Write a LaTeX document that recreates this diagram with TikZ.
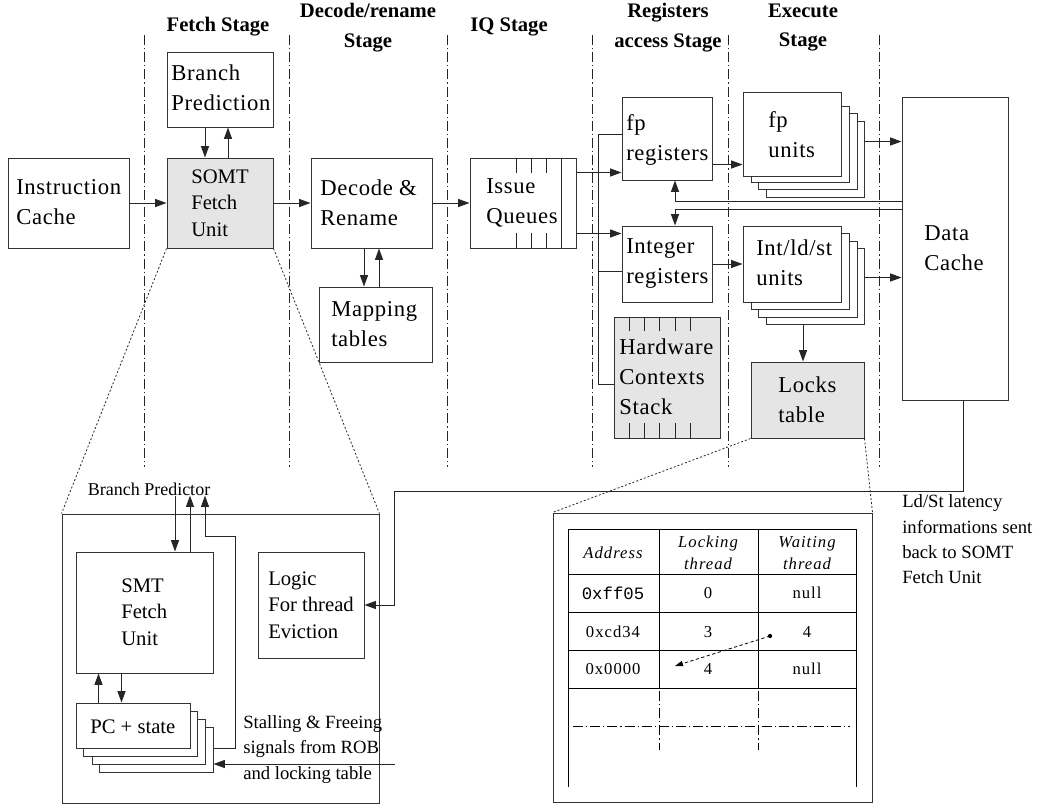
\documentclass[tikz,border=0pt]{standalone}
\usepackage{fontspec}
\setmainfont{Liberation Serif}
\setmonofont{Liberation Mono}
\newfontfamily\boxfam{Liberation Serif}[LetterSpace=3]
\newfontfamily\tabfam{Liberation Serif}[LetterSpace=6]
\usetikzlibrary{arrows.meta,calc,fit}
\tikzset{
  box/.style={draw=black!80, line width=0.75pt, inner sep=0pt, fill=white},
  gbox/.style={box, fill=black!10},
  arr/.style={draw=black!85, line width=0.75pt, -{Triangle[length=8.5pt,width=6pt]}},
  ln/.style={draw=black!85, line width=0.75pt},
  stageline/.style={draw=black!85, line width=0.75pt, dash pattern=on 7.5pt off 2.2pt on 1pt off 2.2pt},
  zoomline/.style={draw=black!85, line width=0.6pt, dash pattern=on 1.5pt off 1.5pt},
  btext/.style={anchor=west, align=left, inner sep=0pt, font=\boxfam\fontsize{17}{22.5}\selectfont},
  btextt/.style={btext, font=\fontsize{15.5}{20}\selectfont},
  title/.style={align=center, inner sep=0pt, font=\bfseries\fontsize{15.5}{22}\selectfont},
  side/.style={anchor=west, align=left, inner sep=0pt, font=\fontsize{14}{19}\selectfont},
  tab/.style={inner sep=0pt, align=center, font=\tabfam\fontsize{12.5}{16.5}\selectfont},
  tabh/.style={tab, font=\tabfam\fontsize{12.5}{16.5}\selectfont\itshape},
}
\begin{document}
\begin{tikzpicture}[x=0.75pt,y=-0.75pt]
\useasboundingbox (0,0) rectangle (1037,804);

% stage separators
\foreach \xx in {144,289,447,592,728,879}
  \draw[stageline] (\xx,35) -- (\xx,467);

% titles
\node[title] (tfetch) at (218,27) {Fetch Stage};
\node[title] (tdec) at (368,27.5) {Decode/rename\\Stage};
\node[title] (tiq) at (509,27) {IQ Stage};
\node[title] (treg) at (668,27.5) {Registers\\access Stage};
\node[title] (texe) at (803,27.5) {Execute\\Stage};

% boxes
\node[box, fit={(8,158) (129,248)}] (ic) {};
\node[box, fit={(167,52) (273,127)}] (bp) {};
\node[gbox, fit={(167,158) (273,248)}] (somt) {};
\node[box, fit={(311,158) (432,248)}] (dr) {};
\node[box, fit={(319,287) (432,362)}] (mt) {};
\node[box, fit={(470,158) (576,248)}] (iq) {};
\node[box, fit={(622,97) (712,180)}] (fpr) {};
\node[box, fit={(622,226) (712,302)}] (intr) {};
\node[gbox, fit={(614,317) (720,438)}] (hw) {};
\node[box, fit={(766,121) (864,197)}] (fpu3) {};
\node[box, fit={(758,113) (857,189)}] (fpu2) {};
\node[box, fit={(751,106) (849,182)}] (fpu1) {};
\node[box, fit={(743,92) (841,176)}] (fpu) {};
\node[box, fit={(766,248) (864,324)}] (intu3) {};
\node[box, fit={(758,241) (857,317)}] (intu2) {};
\node[box, fit={(751,233) (849,309)}] (intu1) {};
\node[box, fit={(743,226) (841,302)}] (intu) {};
\node[gbox, fit={(751,362) (864,438)}] (lt) {};
\node[box, fit={(902,97) (1008,400)}] (dc) {};

% issue queue ticks
\foreach \xx in {516,531,546} {
  \draw[ln] (\xx,158) -- (\xx,173);
  \draw[ln] (\xx,233) -- (\xx,248);
}
\draw[ln] (561,158) -- (561,248);
% hardware stack ticks
\foreach \xx in {629,644,659,675,690} {
  \draw[ln] (\xx,317) -- (\xx,331);
  \draw[ln] (\xx,423) -- (\xx,438);
}

% box texts
\node[btext] (ict) at (16,202.5) {Instruction\\Cache};
\node[btext] (bpt) at (171,88) {Branch\\Prediction};
\node[btextt] (somtt) at (191,203) {SOMT\\Fetch\\Unit};
\node[btext] (drt) at (320,202.5) {Decode \&\\Rename};
\node[btext] (mtt) at (331,324) {Mapping\\tables};
\node[btext] (iqt) at (486,203) {Issue\\Queues};
\node[btext] (fprt) at (626,140) {fp\\registers};
\node[btext] (intrt) at (626,264) {Integer\\registers};
\node[btext] (hwt) at (619,377) {Hardware\\Contexts\\Stack};
\node[btext] (fput) at (768,135) {fp\\units};
\node[btext] (intut) at (756,263) {Int/ld/st\\units};
\node[btext] (ltt) at (778,400) {Locks\\table};
\node[btext] (dct) at (924,248) {Data\\Cache};

% top connectors
\draw[arr] (ic) -- (somt);
\draw[arr] (somt) -- (dr);
\draw[arr] (dr) -- (iq);
\coordinate (b1) at ($(bp.south)+(-15,0)$);
\coordinate (b2) at ($(bp.south)+(8,0)$);
\draw[arr] (b1) -- (b1 |- somt.north);
\draw[arr] (b2 |- somt.north) -- (b2);
\coordinate (m1) at ($(dr.south)+(-7.5,0)$);
\coordinate (m2) at ($(dr.south)+(7.5,0)$);
\draw[arr] (m1) -- (m1 |- mt.north);
\draw[arr] (m2 |- mt.north) -- (m2);
\coordinate (q1) at ($(iq.north east)+(0,15)$);
\coordinate (q2) at ($(iq.south east)+(0,-15)$);
\draw[arr] (q1) -- (q1 -| fpr.west);
\draw[arr] (q2) -- (q2 -| intr.west);
% register bus
\coordinate (r1) at ($(fpr.north west)+(0,38)$);
\coordinate (r2) at ($(intr.south west)+(0,-31)$);
\coordinate (r3) at ($(hw.north west)+(0,68)$);
\coordinate (bus) at ($(r1)+(-23,0)$);
\draw[ln] (r1) -- (bus) -- (bus |- r3) -- (r3);
\draw[ln] (r2) -- (r2 -| bus);
% regs to units
\coordinate (u1) at ($(fpr.south east)+(0,-16)$);
\draw[arr] (u1) -- (u1 -| fpu.west);
\draw[arr] (intr.east) -- (intr.east -| intu.west);
% units to data cache
\coordinate (u2) at ($(fpu3.north east)+(0,21)$);
\coordinate (u3) at ($(intu3.north east)+(0,30)$);
\draw[arr] (u2) -- (u2 -| dc.west);
\draw[arr] (u3) -- (u3 -| dc.west);
% int units to locks table
\coordinate (l1) at ($(intu3.south)+(-12,0)$);
\draw[arr] (l1) -- (l1 |- lt.north);
% data cache back to registers
\coordinate (d1) at ($(fpr.south)+(8,0)$);
\coordinate (d2) at ($(intr.north)+(8,0)$);
\draw[arr] ($(dc.north west)+(0,105)$) -| (d1);
\draw[arr] ($(dc.north west)+(0,113)$) -| (d2);

% zoom of the fetch unit
\node[box, fill=none, fit={(62,514) (379,803)}] (big) {};
\draw[zoomline] (somt.south west) -- (big.north west);
\draw[zoomline] (somt.south east) -- (big.north east);
\node[box, fit={(76,552) (213,673)}] (smt) {};
\node[box, fit={(258,552) (364,658)}] (logic) {};
\node[box, fit={(99,727) (213,772)}] (pc4) {};
\node[box, fit={(92,719) (205,764)}] (pc3) {};
\node[box, fit={(83,711) (197,756)}] (pc2) {};
\node[box, fit={(76,703) (190,748)}] (pc1) {};
\node[btextt] (smtt) at (121,612) {SMT\\Fetch\\Unit};
\node[btextt] (logict) at (268,605) {Logic\\For thread\\Eviction};
\node[btextt] (pct) at (90,727) {PC + state};
\node[inner sep=0pt, font=\fontsize{13.5}{16}\selectfont] (bpr) at (149,489) {Branch Predictor};
\node[side] (stall) at (243,749.5) {Stalling \& Freeing\\signals from ROB\\and locking table};
\node[side] (ldst) at (902,539.5) {Ld/St latency\\informations sent\\back to SOMT\\Fetch Unit};

\coordinate (f1) at ($(smt.north)+(30.5,0)$);
\coordinate (f2) at ($(smt.north)+(45.5,0)$);
\coordinate (f3) at ($(smt.north)+(60.5,0)$);
\draw[arr] (f1 |- bpr.south) -- (f1);
\draw[arr] (f2) -- (f2 |- bpr.south);
\draw[arr] ($(pc4.east)+(0,-1.5)$) -- ++(22,0) |- ($(f3)+(0,-15)$) -- (f3 |- bpr.south);
\coordinate (g1) at ($(smt.south west)+(23,0)$);
\coordinate (g2) at ($(smt.south west)+(46,0)$);
\draw[arr] (g1 |- pc1.north) -- (g1);
\draw[arr] (g2) -- (g2 |- pc1.north);
\coordinate (st) at (395,764);
\draw[arr] (st) -- (st -| pc4.east);
\coordinate (e1) at ($(dc.south)+(8,0)$);
\draw[arr] (e1) -- ++(0,91) -| ($(logic.east)+(30,0)$) -- (logic.east);

% zoom of the locks table
\node[box, fill=none, fit={(553,513) (872,802)}] (tbl) {};
\draw[zoomline] (lt.south west) -- (tbl.north west);
\draw[zoomline] (lt.south east) -- (tbl.north east);
\draw[ln, draw=black] (568,787) -- (568,529) -- (856,529) -- (856,787);
\foreach \yy in {574,612,650,688}
  \draw[ln, draw=black] (568,\yy) -- (856,\yy);
\foreach \xx in {659,758} {
  \draw[ln, draw=black] (\xx,529) -- (\xx,688);
  \draw[stageline, draw=black] (\xx,691) -- (\xx,750);
}
\draw[stageline, draw=black] (573,726) -- (850,726);

\node[tabh] (h1) at (613,553) {Address};
\node[tabh] (h2) at (708,553) {Locking\\thread};
\node[tabh] (h3) at (807,553) {Waiting\\thread};
\node[tab, font=\ttfamily\fontsize{13}{16}\selectfont] (a1) at (613,593) {0xff05};
\node[tab] (a2) at (708,593) {0};
\node[tab] (a3) at (807,593) {null};
\node[tab] (b1t) at (613,632) {0xcd34};
\node[tab] (b2t) at (708,632) {3};
\node[tab] (b3t) at (807,632) {4};
\node[tab] (c1t) at (613,669) {0x0000};
\node[tab] (c2t) at (708,669) {4};
\node[tab] (c3t) at (807,669) {null};
\coordinate (dot) at (770,636);
\coordinate (tip) at (675,666);
\fill[black] (dot) circle (1.6pt);
\draw[draw=black, line width=0.6pt, dash pattern=on 2.5pt off 1.8pt, -{Triangle[length=6pt,width=4pt]}] (dot) -- (tip);
\end{tikzpicture}
\end{document}
